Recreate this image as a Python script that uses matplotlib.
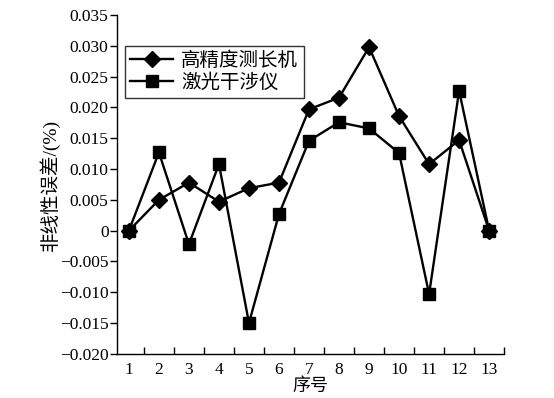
import numpy as np
import matplotlib.pyplot as plt
from matplotlib.ticker import FixedLocator, FuncFormatter

plt.rcParams['font.family'] = ['Liberation Serif', 'Noto Sans CJK SC']
plt.rcParams['axes.unicode_minus'] = True

# data
idx = np.arange(1, 14)
gauge = [0, 0.0050, 0.0078, 0.0047, 0.0069, 0.0078, 0.0197, 0.0216, 0.0298, 0.0186, 0.0108, 0.0147, 0]
laser = [0, 0.0127, -0.0022, 0.0108, -0.0150, 0.0027, 0.0146, 0.0176, 0.0166, 0.0126, -0.0103, 0.0227, 0]
names = ['高精度测长机', '激光干涉仪']

fig = plt.figure(figsize=(5.54, 3.98), dpi=100)
ax = fig.add_axes([0.211, 0.111, 0.699, 0.851])

ax.plot(idx, gauge, color='black', lw=1.7, marker='D', ms=8.5, label=names[0])
ax.plot(idx, laser, color='black', lw=1.7, marker='s', ms=8, label=names[1])

ax.set_xlim(0.6, 13.5)
ax.set_ylim(-0.020, 0.035)
ax.set_yticks(np.arange(-0.020, 0.0351, 0.005))
ax.yaxis.set_major_formatter(FuncFormatter(lambda v, p: '0' if abs(v) < 1e-9 else f'{v:.3f}'.replace('-', '\u2212')))
ax.set_xticks(idx)
ax.xaxis.set_minor_locator(FixedLocator(np.arange(1.5, 14, 1)))
ax.tick_params(axis='x', which='major', length=0, labelsize=12.5, pad=6)
ax.tick_params(axis='x', which='minor', direction='in', length=5, width=1)
ax.tick_params(axis='y', direction='out', length=5, width=1, labelsize=12.5, pad=1)

for s in ['top', 'right']:
    ax.spines[s].set_visible(False)
for s in ['left', 'bottom']:
    ax.spines[s].set_linewidth(1)

ax.set_xlabel('序号', fontsize=13, labelpad=0)
ax.set_ylabel('非线性误差/(%)', fontsize=14, labelpad=0)

leg = ax.legend(loc='upper left', bbox_to_anchor=(0.02, 0.91), fontsize=14, frameon=True,
                fancybox=False, edgecolor='black', handlelength=2.2, borderpad=0.3,
                labelspacing=0.2, handletextpad=0.4, borderaxespad=0)
leg.get_frame().set_linewidth(1)

fig.savefig('out.png', dpi=100)
